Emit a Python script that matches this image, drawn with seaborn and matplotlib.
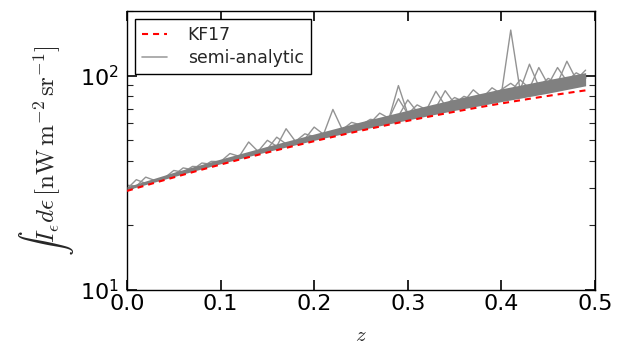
import numpy as np
import pandas as pd
import matplotlib
matplotlib.use("Agg")
import matplotlib.pyplot as plt
from matplotlib.lines import Line2D
import seaborn as sns

# ---------------- data ----------------
z = [round(0.01 * i, 2) for i in range(50)]

kf17 = [28.97, 29.85, 30.74, 31.65, 32.57, 33.51, 34.47, 35.44, 36.43, 37.43,
        38.46, 39.49, 40.55, 41.61, 42.69, 43.78, 44.88, 46.00, 47.13, 48.27,
        49.43, 50.60, 51.77, 52.96, 54.16, 55.36, 56.57, 57.80, 59.03, 60.27,
        61.52, 62.77, 64.02, 65.28, 66.54, 67.81, 69.07, 70.34, 71.60, 72.87,
        74.13, 75.39, 76.65, 77.91, 79.16, 80.40, 81.64, 82.87, 84.09, 85.30]

# envelope of the dense bundle of semi-analytic realisations
band_z = [0.0, 0.05, 0.10, 0.15, 0.20, 0.25, 0.30, 0.35, 0.40, 0.45, 0.49]
band_lower = [29.3, 33.8, 38.8, 44.2, 49.9, 55.9, 62.1, 68.8, 75.6, 82.8, 89.6]
band_upper = [30.3, 35.4, 40.8, 46.8, 53.4, 60.9, 68.9, 77.6, 86.7, 95.7, 103.2]

sa_1 = [29.6, 32.7, 31.4, 32.4, 33.3, 34.3, 35.4, 36.4, 37.5, 38.6,
        39.7, 40.8, 42.0, 49.0, 44.3, 45.5, 46.8, 48.0, 49.3, 50.6,
        51.9, 53.2, 54.6, 56.0, 57.4, 58.8, 60.2, 61.7, 63.2, 89.8,
        66.2, 67.7, 69.2, 70.8, 72.4, 74.0, 75.6, 77.2, 78.8, 80.5,
        82.1, 163.0, 85.5, 87.2, 88.9, 90.6, 92.3, 116.6, 95.8, 97.5]
sa_2 = [29.6, 30.5, 33.6, 32.4, 33.3, 36.1, 35.4, 36.4, 37.5, 38.6,
        39.7, 40.8, 42.0, 43.1, 44.3, 45.5, 46.8, 56.5, 49.3, 50.6,
        51.9, 53.2, 69.5, 56.0, 57.4, 58.8, 60.2, 61.7, 63.2, 64.7,
        77.0, 67.7, 69.2, 70.8, 72.4, 74.0, 75.6, 77.2, 78.8, 80.5,
        82.1, 83.8, 85.5, 113.0, 88.9, 90.6, 92.3, 94.1, 95.8, 97.5]
sa_3 = [29.6, 30.5, 31.4, 32.4, 33.3, 34.3, 37.1, 36.4, 37.5, 38.6,
        39.7, 40.8, 42.0, 43.1, 44.3, 45.5, 51.6, 48.0, 49.3, 50.6,
        57.5, 53.2, 54.6, 56.0, 57.4, 58.8, 60.2, 61.7, 63.2, 78.0,
        66.2, 67.7, 69.2, 84.5, 72.4, 74.0, 75.6, 77.2, 78.8, 80.5,
        82.1, 83.8, 85.5, 87.2, 109.0, 90.6, 92.3, 94.1, 95.8, 106.0]
sa_4 = [29.6, 30.5, 31.4, 32.4, 33.3, 34.3, 35.4, 37.7, 37.5, 38.6,
        39.7, 43.3, 42.0, 43.1, 44.3, 49.9, 46.8, 48.0, 49.3, 50.6,
        51.9, 53.2, 54.6, 56.0, 57.4, 58.8, 60.2, 66.8, 63.2, 64.7,
        66.2, 67.7, 69.2, 70.8, 85.0, 74.0, 75.6, 77.2, 78.8, 87.7,
        82.1, 83.8, 85.5, 87.2, 88.9, 90.6, 109.0, 94.1, 95.8, 97.5]
sa_5 = [30.8, 30.5, 31.4, 32.4, 33.3, 34.3, 35.4, 36.4, 39.1, 38.6,
        39.7, 40.8, 42.0, 43.1, 44.3, 45.5, 46.8, 48.0, 49.3, 50.6,
        51.9, 53.2, 54.6, 56.0, 57.4, 58.8, 60.2, 61.7, 63.2, 64.7,
        66.2, 73.0, 69.2, 70.8, 72.4, 79.0, 75.6, 85.8, 78.8, 80.5,
        82.1, 83.8, 95.5, 87.2, 88.9, 90.6, 92.3, 94.1, 95.8, 97.5]
sa_6 = [29.6, 30.5, 31.4, 32.4, 33.3, 34.3, 35.4, 36.4, 37.5, 39.8,
        39.7, 40.8, 42.0, 43.1, 44.3, 45.5, 46.8, 48.0, 49.3, 53.5,
        51.9, 53.2, 54.6, 56.0, 60.5, 58.8, 62.5, 61.7, 63.2, 64.7,
        66.2, 67.7, 69.2, 70.8, 72.4, 74.0, 80.0, 77.2, 78.8, 80.5,
        86.0, 92.0, 85.5, 87.2, 88.9, 97.0, 92.3, 94.1, 103.0, 97.5]
semi_analytic = [sa_1, sa_2, sa_3, sa_4, sa_5, sa_6]

# ---------------- figure ----------------
sns.set_style("ticks")
plt.rcParams["font.family"] = ["DejaVu Sans"]
plt.rcParams["mathtext.fontset"] = "dejavusans"

fig = plt.figure(figsize=(6.17, 3.45), dpi=100)
ax = fig.add_axes([0.2058, 0.1594, 0.7585, 0.8087])

gray = "#939393"
ax.fill_between(band_z, band_lower, band_upper, color="#808080", lw=0, zorder=3)

rows = []
for k, line in enumerate(semi_analytic):
    for zz, v in zip(z, line):
        rows.append({"z": zz, "val": v, "run": k})
df_sa = pd.DataFrame(rows)
sns.lineplot(data=df_sa, x="z", y="val", units="run", estimator=None,
             color=gray, lw=1.0, ax=ax, zorder=2, legend=False)

df_kf = pd.DataFrame({"z": z, "val": kf17})
sns.lineplot(data=df_kf, x="z", y="val", color="red", lw=1.5, ax=ax,
             zorder=4, legend=False)
ax.lines[-1].set_linestyle((0, (2.9, 2.4)))

ax.set_yscale("log")
ax.set_xlim(0, 0.5)
ax.set_ylim(10, 200)
ax.set_xticks([0.0, 0.1, 0.2, 0.3, 0.4, 0.5])
ax.set_xticklabels(["0.0", "0.1", "0.2", "0.3", "0.4", "0.5"])

for s in ax.spines.values():
    s.set_visible(True)
    s.set_color("black")
    s.set_linewidth(1.0)

ax.tick_params(which="major", direction="in", top=True, right=True,
               length=7, width=1.2, labelsize=16, colors="black")
ax.tick_params(axis="x", which="major", pad=3)
ax.tick_params(axis="y", which="major", pad=6)
ax.tick_params(which="minor", direction="in", top=True, right=True,
               length=4, width=0.8)
ax.tick_params(axis="x", which="minor", top=False, bottom=False)

ax.set_xlabel("$z$", fontsize=15, math_fontfamily="cm", labelpad=8)
ax.set_ylabel(r"$\int I_\epsilon d\epsilon\,[\mathrm{nW\,m^{-2}\,sr^{-1}}]$",
              fontsize=18, math_fontfamily="cm", labelpad=3)

handles = [Line2D([], [], color="red", lw=1.5, ls=(0, (2.9, 2.4))),
           Line2D([], [], color="#a0a0a0", lw=1.2)]
leg = ax.legend(handles, ["KF17", "semi-analytic"], loc="upper left",
                fontsize=12.4, frameon=True, fancybox=False,
                edgecolor="black", framealpha=1, borderpad=0.42,
                labelspacing=0.3, handlelength=1.45, handletextpad=1.2,
                borderaxespad=0.45)
leg.get_frame().set_linewidth(1.0)

fig.savefig("out.png", dpi=100)
